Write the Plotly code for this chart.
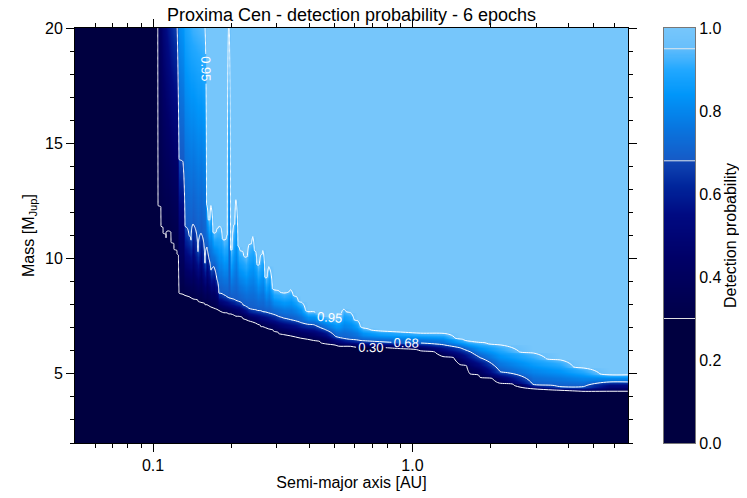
import numpy as np
import plotly.graph_objects as go

# Semi-major axis columns [AU] and masses [M_Jup] at which the detection
# probability reaches 0.30, 0.68 and 0.95 (values > 20 lie above the plot)
a_au = [0.050, 0.1035, 0.1045, 0.1073, 0.1093, 0.1122, 0.1142, 0.1173, 0.1204, 0.1237,
        0.1259, 0.1304, 0.1328, 0.1375, 0.1400, 0.1425, 0.1490, 0.1530, 0.1585, 0.1613,
        0.1642, 0.1671, 0.1716, 0.1763, 0.1794, 0.1826, 0.1875, 0.1926, 0.1960, 0.1995,
        0.2049, 0.2086, 0.2142, 0.2219, 0.2279, 0.2340, 0.2424, 0.2490, 0.2534, 0.2603,
        0.2649, 0.2720, 0.2794, 0.2920, 0.3052, 0.3190, 0.3394, 0.3548, 0.3709, 0.3946,
        0.4161, 0.4428, 0.4628, 0.5057, 0.5193, 0.5428, 0.5775, 0.6090, 0.6422, 0.7532,
        0.8992, 1.0735, 1.316, 1.530, 1.671, 1.826, 2.180, 2.920, 3.708, 4.547,
        5.775, 6.774]
m_030 = [99.0, 99.0, 12.3, 11.4, 11.1, 10.9, 11.2, 10.7, 10.4, 10.2,
         8.50, 8.45, 8.40, 8.35, 8.30, 8.25, 8.15, 8.10, 8.00, 7.97,
         7.93, 7.88, 7.82, 7.78, 7.74, 7.70, 7.65, 7.61, 7.59, 7.57,
         7.52, 7.50, 7.46, 7.39, 7.35, 7.26, 7.22, 7.17, 7.13, 7.04,
         7.02, 6.96, 6.91, 6.83, 6.74, 6.70, 6.61, 6.57, 6.52, 6.48,
         6.41, 6.35, 6.30, 6.22, 6.20, 6.17, 6.17, 6.15, 6.13, 6.13,
         6.07, 6.00, 5.74, 5.39, 4.96, 4.83, 4.57, 4.35, 4.26, 4.22,
         4.22, 4.22]
m_068 = [120.0, 120.0, 48.9, 33.2, 28.0, 24.7, 23.1, 21.7, 20.8, 20.3,
         14.3, 14.2, 11.4, 11.0, 10.8, 11.5, 10.3, 11.1, 9.8, 10.5,
         10.0, 9.5, 9.65, 9.1, 8.5, 8.48, 8.41, 8.35, 8.30, 8.26,
         8.22, 8.17, 8.13, 8.00, 7.91, 7.83, 7.78, 7.76, 7.74, 7.72,
         7.70, 7.67, 7.63, 7.57, 7.48, 7.41, 7.35, 7.30, 7.22, 7.15,
         7.13, 7.00, 6.91, 6.61, 6.57, 6.52, 6.48, 6.46, 6.43, 6.39,
         6.35, 6.33, 6.26, 6.13, 5.96, 5.70, 5.09, 4.52, 4.43, 4.43,
         4.65, 4.65]
m_095 = [150.0, 150.0, 120.0, 90.0, 80.0, 70.0, 60.0, 50.0, 40.0, 32.0,
         26.0, 24.0, 23.0, 22.0, 21.5, 21.0, 20.7, 20.4, 20.1, 12.3,
         11.7, 12.3, 11.1, 11.3, 11.4, 11.39, 10.83, 11.04, 20.6, 10.39,
         11.48, 12.57, 10.52, 10.30, 10.09, 10.61, 10.96, 10.30, 9.74, 10.17,
         10.39, 9.17, 9.65, 8.65, 8.61, 8.52, 8.65, 8.39, 8.13, 7.70,
         7.70, 7.57, 7.48, 7.39, 7.43, 7.83, 7.65, 7.35, 7.00, 6.87,
         6.83, 6.78, 6.76, 6.52, 6.43, 6.39, 6.26, 5.91, 5.61, 5.26,
         4.96, 4.96]

levels = [0.30, 0.68, 0.95]
x_major = [0.1, 1.0]
x_major_text = ["0.1", "1.0"]
x_minor = [0.06, 0.07, 0.08, 0.09, 0.2, 0.3, 0.4, 0.5, 0.6, 0.7, 0.8, 0.9,
           2, 3, 4, 5, 6]
y_major = [5, 10, 15, 20]
cb_ticks = [0.0, 0.2, 0.4, 0.6, 0.8, 1.0]

mass_grid = np.linspace(2, 20, 361)
z = np.array([
    np.interp(mass_grid, [m1, m2, m3], levels, left=0.05, right=1.0)
    for m1, m2, m3 in zip(m_030, m_068, m_095)
]).T

colorscale = [
    [0.00, "rgb(0,0,64)"], [0.30, "rgb(0,0,64)"],
    [0.30, "rgb(0,0,72)"], [0.45, "rgb(0,0,104)"], [0.55, "rgb(0,10,130)"],
    [0.62, "rgb(0,38,156)"], [0.68, "rgb(16,70,180)"],
    [0.68, "rgb(22,90,198)"], [0.76, "rgb(8,118,224)"], [0.84, "rgb(0,150,250)"],
    [0.90, "rgb(34,168,255)"], [0.95, "rgb(96,188,252)"],
    [0.95, "rgb(104,191,251)"], [1.00, "rgb(118,198,251)"],
]

font = "Liberation Sans, Arial, sans-serif"

# colour-bar gradient samples (probability values)
cb_vals = np.linspace(0, 1, 401)

fig = go.Figure()
fig.add_trace(go.Heatmap(
    x=a_au, y=mass_grid, z=z, zmin=0, zmax=1, zsmooth="best",
    colorscale=colorscale, hoverinfo="skip", showscale=False,
))
for lvl in levels:
    fig.add_trace(go.Contour(
        x=a_au, y=mass_grid, z=z, showscale=False, hoverinfo="skip",
        showlegend=False,
        contours=dict(start=lvl, end=lvl, size=1, coloring="none",
                      showlabels=True, labelformat=".2f",
                      labelfont=dict(color="white", size=13, family=font)),
        line=dict(color="white", width=1),
    ))

# colour bar drawn as its own small subplot
fig.add_trace(go.Heatmap(
    x=[0], y=cb_vals, z=[[v] for v in cb_vals], zmin=0, zmax=1,
    colorscale=colorscale, showscale=False, hoverinfo="skip",
    xaxis="x2", yaxis="y2",
))
for lvl in levels:
    fig.add_shape(type="line", xref="x2 domain", yref="y2",
                  x0=0, x1=1, y0=lvl, y1=lvl,
                  line=dict(color="rgba(235,235,235,0.95)", width=1))

# page body adds an 8 px offset: figure is sized/margined to compensate
fig.update_layout(
    width=739, height=490,
    margin=dict(l=67, r=52, t=20, b=55),
    paper_bgcolor="white", plot_bgcolor="white",
    showlegend=False,
    font=dict(family=font, color="black", size=16),
    title=dict(text="Proxima Cen - detection probability - 6 epochs",
               x=(0 + 0.8919) / 2, xref="paper", xanchor="center",
               y=1.0, yref="container", yanchor="top",
               font=dict(size=18, family=font, color="black")),
    xaxis=dict(
        domain=[0, 0.8919],
        type="log", range=[np.log10(0.05), np.log10(6.78)],
        tickmode="array", tickvals=x_major, ticktext=x_major_text,
        ticks="outside", ticklen=8, tickcolor="black", tickwidth=1,
        showline=True, linecolor="black", linewidth=1, mirror="ticks",
        showgrid=False, zeroline=False, automargin=False,
        minor=dict(tickmode="array", tickvals=x_minor, ticks="outside",
                   ticklen=4, tickcolor="black", showgrid=False),
        title=dict(text="Semi-major axis [AU]", font=dict(size=16), standoff=2),
        tickfont=dict(size=16),
    ),
    yaxis=dict(
        range=[2, 20], tickmode="array", tickvals=y_major,
        ticks="outside", ticklen=8, tickcolor="black", tickwidth=1,
        showline=True, linecolor="black", linewidth=1, mirror="ticks",
        showgrid=False, zeroline=False, automargin=False,
        minor=dict(dtick=1, tick0=0, ticks="outside", ticklen=4,
                   tickcolor="black", showgrid=False),
        title=dict(text="Mass [M<sub>Jup</sub>]", font=dict(size=16), standoff=6),
        tickfont=dict(size=16),
    ),
    xaxis2=dict(
        domain=[0.95, 1.0], anchor="y2", range=[-0.5, 0.5],
        showticklabels=False, ticks="", showgrid=False, zeroline=False,
        showline=True, linecolor="#777777", linewidth=1, mirror=True,
        automargin=False, fixedrange=True,
    ),
    yaxis2=dict(
        anchor="x2", side="right", range=[0, 1],
        tickmode="array", tickvals=cb_ticks,
        ticktext=[f"{v:.1f}" for v in cb_ticks], ticks="",
        showgrid=False, zeroline=False,
        showline=True, linecolor="#777777", linewidth=1, mirror=True,
        automargin=False, fixedrange=True,
        tickfont=dict(size=16),
        title=dict(text="Detection probability", font=dict(size=16), standoff=4),
    ),
)

fig.write_html("out.html")
